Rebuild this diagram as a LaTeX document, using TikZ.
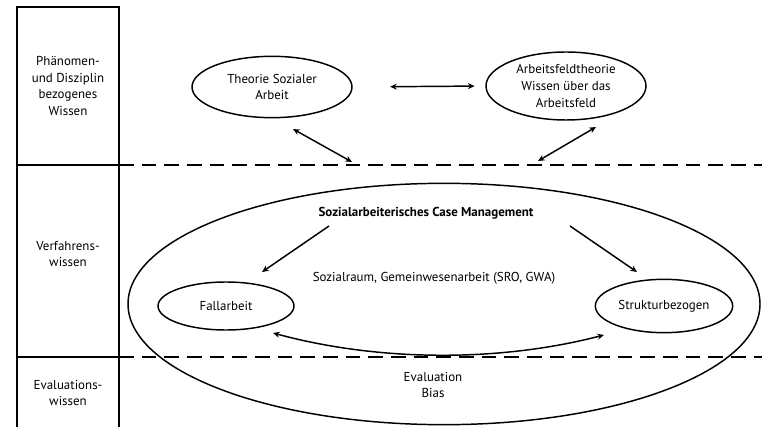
\documentclass[tikz,border=0pt]{standalone}
\usepackage{fontspec}
\setmainfont{PT Sans}
\usetikzlibrary{shapes.geometric,arrows.meta}
\begin{document}
\begin{tikzpicture}[x=0.75pt,y=-0.75pt,line width=1.1pt,
    font=\fontsize{9.7}{12.5}\selectfont,
    every node/.style={align=center,text=black},
    oval/.style={draw,ellipse,inner sep=0pt},
    sep/.style={dash pattern=on 11pt off 6pt},
    >={Stealth[length=5pt,width=4.5pt]}]
  \useasboundingbox (0,0) rectangle (762,427);
  % left column
  \draw (17,427) -- (17,7) -- (119,7) -- (119,427);
  \draw (17,165) -- (119,165);
  \draw (17,357) -- (119,357);
  \node (k1) at (68,86) {Phänomen-\\und Disziplin\\bezogenes\\Wissen};
  \node (k2) at (68,254) {Verfahrens-\\wissen};
  \node (k3) at (68,393) {Evaluations-\\wissen};
  % separators
  \draw[sep] (119,165) -- (762,165);
  \draw[sep] (119,357) -- (762,357);
  % upper level
  \node[oval,minimum width=120pt,minimum height=46pt] (t) at (272,87)
    {Theorie Sozialer\\Arbeit};
  \node[oval,minimum width=120pt,minimum height=51pt] (a) at (566,86)
    {Arbeitsfeldtheorie\\Wissen über das\\Arbeitsfeld};
  \draw[<->,shorten <=28pt,shorten >=8pt] (t.east) -- (a.west);
  \coordinate (t1) at (293,129);
  \coordinate (d1) at (352,162);
  \coordinate (a1) at (596,127);
  \coordinate (d2) at (538,161);
  \draw[<->] (t1) -- (d1);
  \draw[<->] (a1) -- (d2);
  % case management
  \node[oval,minimum width=474pt,minimum height=181pt] (cm) at (444,304) {};
  \node[font=\fontsize{9.7}{12.5}\selectfont\bfseries] (cmt) at (426,213)
    {Sozialarbeiterisches Case Management};
  \node (sr) at (434,278) {Sozialraum, Gemeinwesenarbeit (SRO, GWA)};
  \node[oval,minimum width=102pt,minimum height=36pt] (f) at (226,306) {Fallarbeit};
  \node[oval,minimum width=103pt,minimum height=40pt] (s) at (664,306) {Strukturbezogen};
  \coordinate (c1) at (329,226);
  \coordinate (f0) at (262,272);
  \coordinate (c2) at (570,226);
  \coordinate (s0) at (637,272);
  \draw[->] (c1) -- (f0);
  \draw[->] (c2) -- (s0);
  \coordinate (f1) at (273,333);
  \coordinate (s1) at (604,335);
  \draw[<->] (f1) .. controls (380,362) and (500,362) .. (s1);
  \node (ev) at (433,385) {Evaluation\\Bias};
\end{tikzpicture}
\end{document}
